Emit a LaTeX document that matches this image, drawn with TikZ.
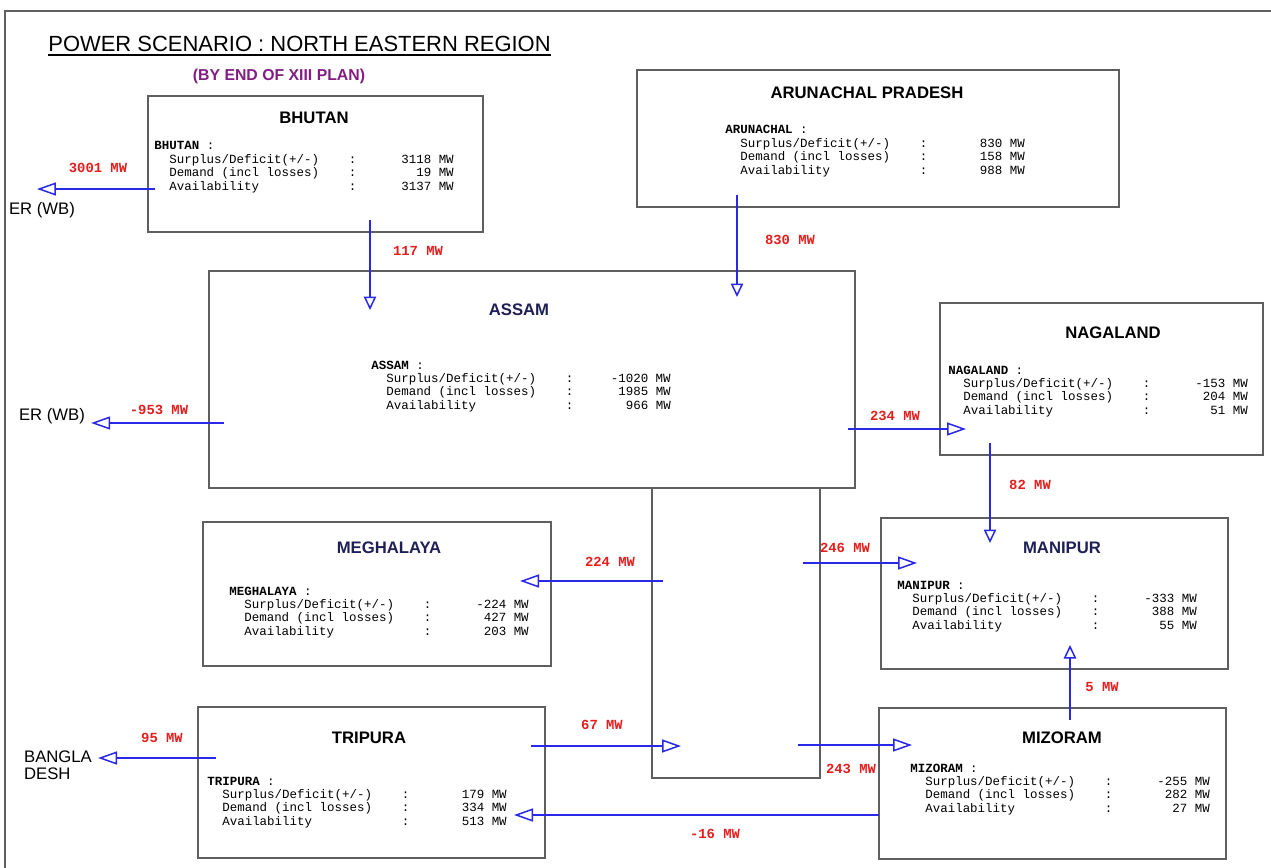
\documentclass[tikz,border=0pt]{standalone}
\usepackage{fontspec}
\setmainfont{Liberation Sans}
\setmonofont{Liberation Mono}
\usetikzlibrary{arrows.meta}

\definecolor{flowblue}{RGB}{40,40,230}
\definecolor{flowred}{RGB}{228,30,30}
\definecolor{plannavy}{RGB}{30,32,85}
\definecolor{planpurple}{RGB}{130,30,130}
\definecolor{boxgrey}{RGB}{95,95,95}

% state figures: name line, then three rows with colon column
\newcommand{\powerdata}[4]{%
\begin{tabular}[t]{@{}l@{}}
\textbf{#1}~:\\
\makebox[15.6em][l]{\hspace*{1.2em}Surplus/Deficit(+/-)}:\makebox[7.8em][r]{#2 MW}\\
\makebox[15.6em][l]{\hspace*{1.2em}Demand (incl losses)}:\makebox[7.8em][r]{#3 MW}\\
\makebox[15.6em][l]{\hspace*{1.2em}Availability}:\makebox[7.8em][r]{#4 MW}
\end{tabular}}

\tikzset{
  statebox/.style={draw=boxgrey, line width=0.03cm, inner sep=0},
  flow/.style={draw=flowblue, line width=0.03cm, -{Triangle[open,length=0.38cm,width=0.26cm]}},
  flowv/.style={flow, -{Triangle[open,length=0.27cm,width=0.25cm]}},
  mw/.style={text=flowred, font=\ttfamily\bfseries\fontsize{7.9}{8}\selectfont, inner sep=0},
  place/.style={font=\fontsize{9.5}{9.8}\selectfont, align=left},
}

\begin{document}
\begin{tikzpicture}[x=0.02cm,y=-0.02cm]
\useasboundingbox (0,0) rectangle (1271,868);

% page frame (top and left only)
\draw[boxgrey, line width=0.03cm] (5,868) -- (5,11) -- (1271,11);

\node[anchor=base west, inner sep=0, font=\fontsize{12.5}{14}\selectfont] (head) at (48,52) {POWER SCENARIO : NORTH EASTERN REGION};
\draw[line width=0.8pt] ([yshift=-0.06cm]head.base west) -- ([yshift=-0.06cm]head.base east);
\node[font=\bfseries\fontsize{9}{10}\selectfont, text=planpurple] (plan) at (279,76) {(BY END OF XIII PLAN)};

% hub below Assam
\node[statebox, minimum width=168*0.02cm, minimum height=291*0.02cm] (hub) at (736,632.5) {};

% the states
\foreach \name/\ttl/\tc/\bx/\by/\bw/\bh/\tx/\ty/\dname/\dx/\dy/\sur/\dem/\ava in {
  bhutan/BHUTAN/black/315.5/164/335/136/314/118/BHUTAN/154/150/3118/19/3137,
  arunachal/ARUNACHAL PRADESH/black/878/138.5/482/137/867/93/ARUNACHAL/725/134/830/158/988,
  assam/ASSAM/plannavy/532/379.5/646/217/519/310/ASSAM/371/369/-1020/1985/966,
  nagaland/NAGALAND/black/1101.5/379/323/152/1113/333/NAGALAND/948/374/-153/204/51,
  manipur/MANIPUR/plannavy/1054.5/593.5/347/151/1062/548/MANIPUR/897/589/-333/388/55,
  meghalaya/MEGHALAYA/plannavy/377/594/348/144/389/548/MEGHALAYA/229/595/-224/427/203,
  tripura/TRIPURA/black/371.5/782.5/347/151/369/738/TRIPURA/207/785/179/334/513,
  mizoram/MIZORAM/black/1052.5/783.5/347/151/1062/738/MIZORAM/910/772/-255/282/27}
{
\node[statebox, fill=white, minimum width=\bw*0.02cm, minimum height=\bh*0.02cm] (\name) at (\bx,\by) {};
\node[font=\bfseries\fontsize{9.5}{11}\selectfont, text=\tc] (\name-t) at (\tx,\ty) {\ttl};
\node[anchor=base west, inner sep=0, font=\ttfamily\fontsize{7.1}{7.6}\selectfont] (\name-d) at (\dx,\dy) {\powerdata{\dname}{\sur}{\dem}{\ava}};
}

% outside the region
\node[place] (er1) at (42,210) {ER (WB)};
\node[place] (er2) at (52,416) {ER (WB)};
\node[place] (bd) at (58,765) {BANGLA\\DESH};

% flow ends
\coordinate (er1-a) at ([xshift=-0.1cm]er1.north);
\coordinate (bhu-a) at (155,189);
\coordinate (bhu-b) at (370,220);
\coordinate (asm-a) at (370,310);
\coordinate (aru-a) at (737,195);
\coordinate (asm-b) at (737,297);
\coordinate (asm-c) at (224,423);
\coordinate (asm-d) at (848,429);
\coordinate (nag-a) at (966,429);
\coordinate (nag-b) at (990,443);
\coordinate (man-a) at (990,543);
\coordinate (hub-a) at (803,563);
\coordinate (man-b) at (917,563);
\coordinate (hub-b) at (663,581);
\coordinate (meg-a) at (520,581);
\coordinate (tri-a) at (216,758);
\coordinate (tri-b) at (531,746);
\coordinate (hub-c) at (681,746);
\coordinate (hub-d) at (798,745);
\coordinate (miz-a) at (912,745);
\coordinate (miz-b) at (879,815);
\coordinate (tri-c) at (514,815);
\coordinate (miz-c) at (1070,720);
\coordinate (man-c) at (1070,645);

\draw[flow] (bhu-a) -- (bhu-a -| er1-a);
\draw[flowv] (bhu-b) -- (asm-a);
\draw[flowv] (aru-a) -- (asm-b);
\draw[flow] (asm-c) -- (asm-c -| er2.east);
\draw[flow] (asm-d) -- (nag-a);
\draw[flowv] (nag-b) -- (man-a);
\draw[flow] (hub-a) -- (man-b);
\draw[flow] (hub-b) -- (meg-a);
\draw[flow] (tri-a) -- (tri-a -| bd.east);
\draw[flow] (tri-b) -- (hub-c);
\draw[flow] (hub-d) -- (miz-a);
\draw[flow] (miz-b) -- (tri-c);
\draw[flowv] (miz-c) -- (man-c);

% exchanged power
\node[mw] (p3001) at (98,168) {3001 MW};
\node[mw] (p117) at (418,251) {117 MW};
\node[mw] (p830) at (790,240) {830 MW};
\node[mw] (p953) at (159,410) {-953 MW};
\node[mw] (p234) at (895,416) {234 MW};
\node[mw] (p82) at (1030,485) {82 MW};
\node[mw] (p246) at (845,548) {246 MW};
\node[mw] (p224) at (610,562) {224 MW};
\node[mw] (p95) at (162,738) {95 MW};
\node[mw] (p67) at (602,725) {67 MW};
\node[mw] (p243) at (851,769) {243 MW};
\node[mw] (p16) at (715,834) {-16 MW};
\node[mw] (p5) at (1102,687) {5 MW};
\end{tikzpicture}
\end{document}
